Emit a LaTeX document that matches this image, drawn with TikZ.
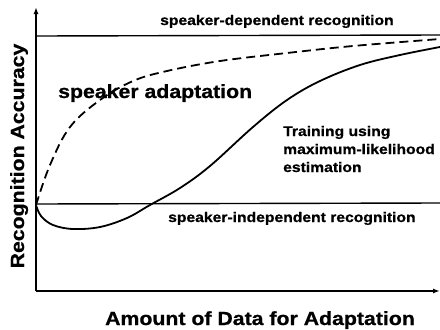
\documentclass[tikz,border=0pt]{standalone}
\usepackage{fontspec}
\setmainfont{Liberation Sans}[FakeStretch=1.12,BoldFeatures={FakeBold=0.8}]
\usetikzlibrary{arrows.meta}
\begin{document}
\begin{tikzpicture}[x=1pt,y=-1pt,
  ax/.style={line width=1.8pt,-{Latex[length=7pt,width=5pt]}},
  ref/.style={line width=1.4pt},
  curve/.style={line width=1.8pt},
  dcurve/.style={line width=1.8pt,dash pattern=on 9pt off 5pt},
  small/.style={font=\fontsize{14}{18}\selectfont\bfseries,inner sep=0pt},
  big/.style={font=\fontsize{19}{22}\selectfont\bfseries,inner sep=0pt}]
\useasboundingbox (0,0) rectangle (440,330);
\coordinate (o) at (36,291);
\coordinate (ytip) at (36,7);
\coordinate (xtip) at (440,291);
\coordinate (sdL) at (36,36);
\coordinate (sdR) at (440,35);
\coordinate (siL) at (36,204);
\coordinate (siR) at (440,203);
\draw[ax] (o) -- (ytip);
\draw[ax] (o) -- (xtip);
\draw[ref] (sdL) -- (sdR);
\draw[ref] (siL) -- (siR);
\draw[dcurve] plot[smooth,tension=0.6] coordinates {(36,205) (50,165) (70,127) (100,100) (133,81) (167,71) (220,61) (287,53) (353,46) (440,39)};
\draw[curve] plot[smooth,tension=0.6] coordinates {(36,205) (41,216) (53,225) (73,229) (100,227) (127,218) (150,205) (180,188) (210,166) (253,127) (287,100) (320,81) (360,65) (400,55) (440,47)};
\node[small,anchor=base west] (sd) at (160,25) {speaker-dependent recognition};
\node[small,anchor=base west] (si) at (168,222) {speaker-independent recognition};
\node[big,anchor=base west] (sa) at (58,98) {speaker adaptation};
\node[small,anchor=base west,align=left] (ml) at (283,172) {Training using\\maximum-likelihood\\estimation};
\node[big,anchor=base] (xl) at (260,325) {Amount of Data for Adaptation};
\node[big,rotate=90,anchor=base] (yl) at (24,156) {Recognition Accuracy};
\end{tikzpicture}
\end{document}
